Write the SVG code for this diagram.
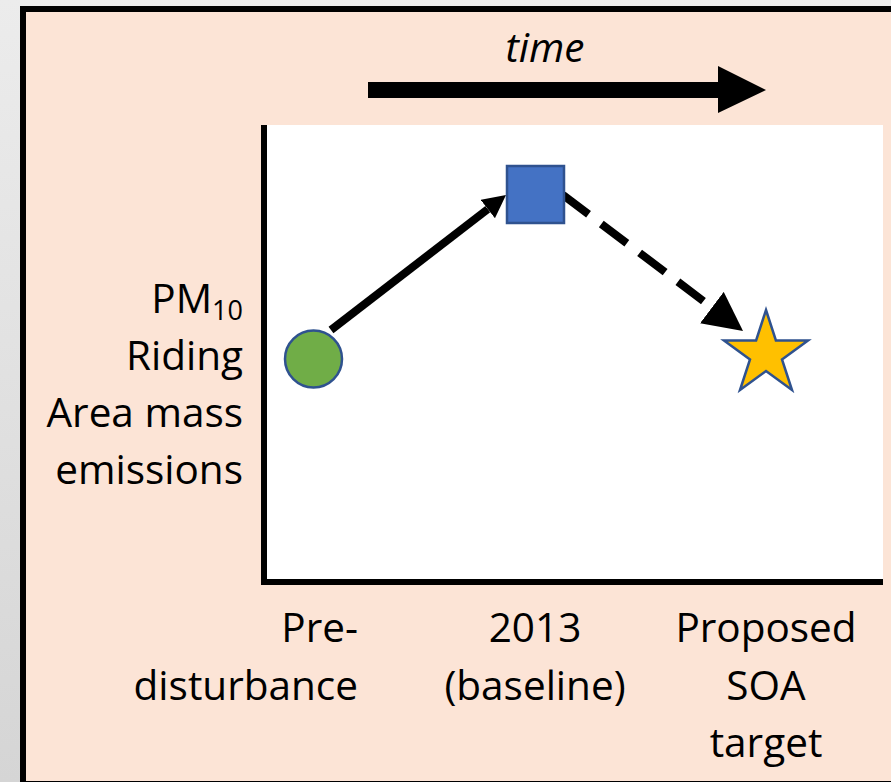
<svg xmlns="http://www.w3.org/2000/svg" width="891" height="782" viewBox="0 0 891 782">
  <defs>
    <linearGradient id="bgGrad" x1="0" y1="0" x2="0" y2="1">
      <stop offset="0" stop-color="#ececec"/>
      <stop offset="1" stop-color="#d5d5d5"/>
    </linearGradient>
    <marker id="headSmall" markerUnits="userSpaceOnUse" markerWidth="24" markerHeight="24" refX="0" refY="11.7" orient="auto">
      <path d="M0,0 L23,11.7 L0,23.4 Z" fill="#000"/>
    </marker>
    <marker id="headLarge" markerUnits="userSpaceOnUse" markerWidth="40" markerHeight="40" refX="0" refY="19.6" orient="auto">
      <path d="M0,0 L39,19.6 L0,39.2 Z" fill="#000"/>
    </marker>
    <style>
      .lbl { font-family: "Open Sans", "Noto Sans", "Liberation Sans", sans-serif; font-size: 40.5px; fill: #000; }
      .conn { fill: none; stroke: #000; stroke-width: 8; }
      .outline { stroke: #2f528f; }
    </style>
  </defs>

  <!-- page background and framed panel -->
  <rect x="0" y="0" width="891" height="782" fill="url(#bgGrad)"/>
  <rect x="23" y="9" width="880" height="775" fill="#fce4d6" stroke="#000" stroke-width="6"/>

  <!-- plot area with axes -->
  <g id="plot">
    <rect x="264" y="125" width="619" height="456" fill="#fff"/>
    <path d="M264,125 V582 H883" fill="none" stroke="#000" stroke-width="6"/>
  </g>

  <!-- time arrow -->
  <g id="time-arrow">
    <polygon points="368,82 718,82 718,66 766,90 718,113 718,98 368,98" fill="#000"/>
    <text class="lbl" x="545" y="62" text-anchor="middle" font-style="italic" font-size="42">time</text>
  </g>

  <!-- y-axis label -->
  <g id="y-label" class="lbl" text-anchor="end">
    <text x="243" y="313">PM<tspan font-size="27" dy="7">10</tspan></text>
    <text x="243" y="370">Riding</text>
    <text x="243" y="427">Area mass</text>
    <text x="243" y="484">emissions</text>
  </g>

  <!-- connectors -->
  <g id="connectors">
    <line class="conn" x1="331" y1="330" x2="487.8" y2="209.1" marker-end="url(#headSmall)"/>
    <line class="conn" x1="563" y1="195" x2="711.9" y2="307.5" stroke-dasharray="32 16" marker-end="url(#headLarge)"/>
  </g>

  <!-- data points -->
  <g id="node-predisturbance">
    <circle class="outline" cx="313.5" cy="359" r="28.5" fill="#70ad47" stroke-width="2.5"/>
  </g>
  <g id="node-baseline">
    <rect class="outline" x="507" y="166" width="57" height="57" fill="#4472c4" stroke-width="2.5"/>
  </g>
  <g id="node-target">
    <polygon class="outline" fill="#ffc000" stroke-width="2.5"
      points="766,310 775.9,340.5 808,340.5 782.0,359.4 792.0,390 766,371.1 740.0,390 750.0,359.4 724,340.5 756.1,340.5"/>
  </g>

  <!-- x-axis category labels -->
  <g id="x-labels" class="lbl">
    <text x="358" y="642" text-anchor="end">Pre-</text>
    <text x="358" y="700" text-anchor="end">disturbance</text>
    <text x="535" y="642" text-anchor="middle">2013</text>
    <text x="535" y="700" text-anchor="middle">(baseline)</text>
    <text x="766" y="642" text-anchor="middle">Proposed</text>
    <text x="766" y="700" text-anchor="middle">SOA</text>
    <text x="766" y="757" text-anchor="middle">target</text>
  </g>
</svg>
